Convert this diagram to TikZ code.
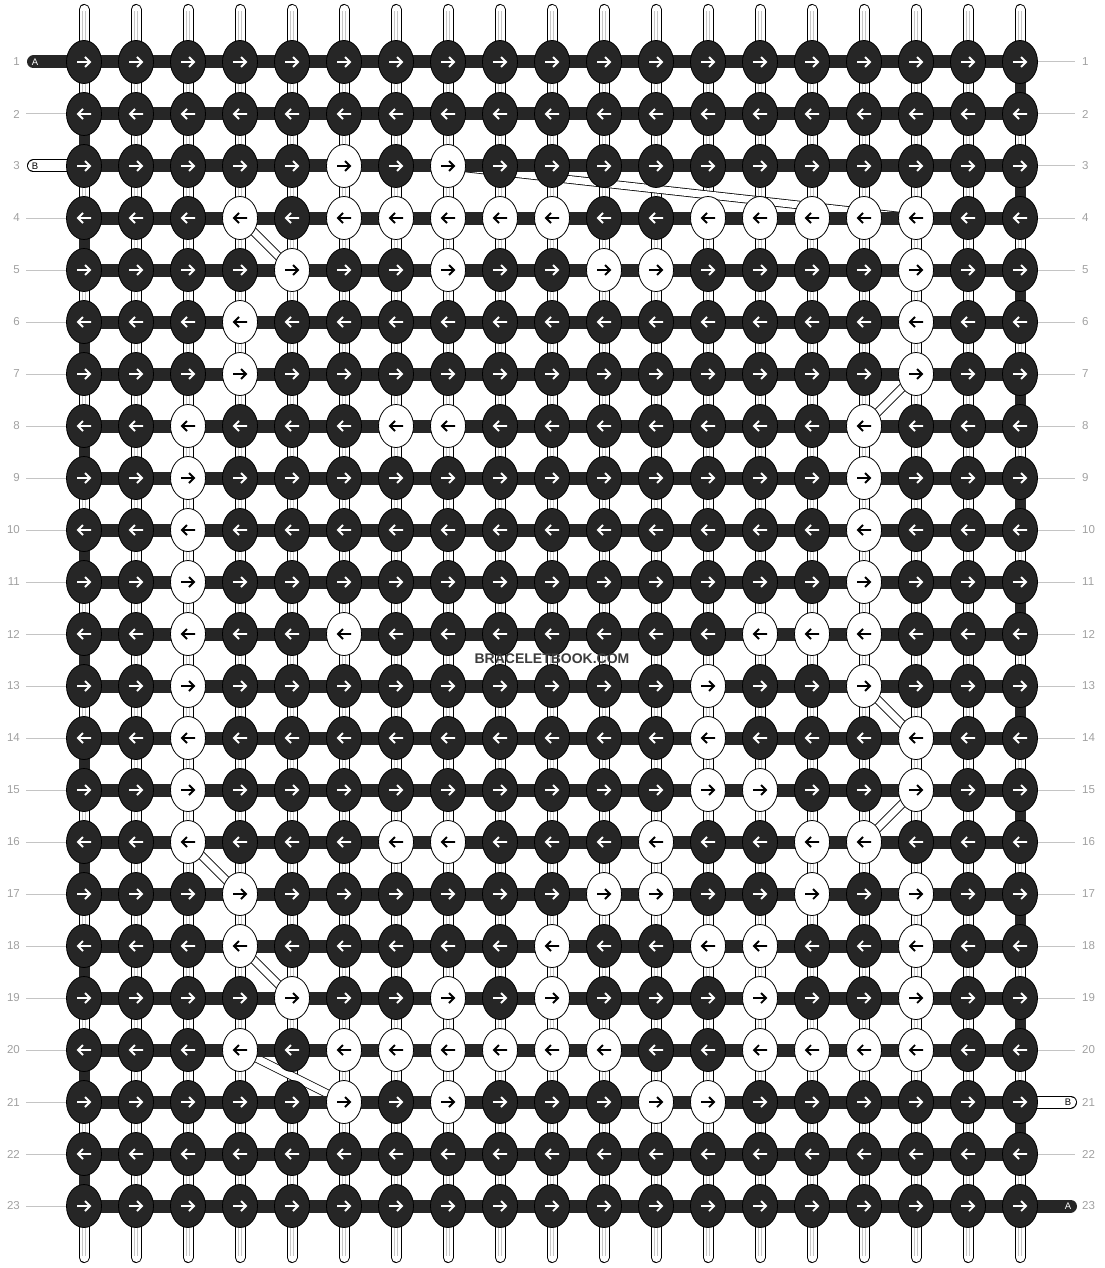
\documentclass[tikz,border=0pt]{standalone}
\usepackage{fontspec}
\setmainfont{Liberation Sans}
\usetikzlibrary{shapes.geometric,backgrounds}
\definecolor{thread}{HTML}{262626}
\definecolor{rulegray}{HTML}{C4C4C4}
\definecolor{numgray}{HTML}{A0A0A0}
\definecolor{markgray}{HTML}{3C3C3C}
\pgfdeclarelayer{warp}
\pgfdeclarelayer{weft}
\pgfsetlayers{warp,weft,main}
\tikzset{
  knot/.style={draw, ellipse, line width=0.8pt, minimum width=35pt, minimum height=43pt, inner sep=0pt},
  warpthread/.style={draw=black, double=white, double distance=9pt, line width=1pt, line cap=round},
  warpline/.style={draw=black!22, line width=0.6pt},
  crossthread/.style={draw=black, double=white, double distance=7pt, line width=0.8pt},
  weftthread/.style={draw=thread, line width=13pt},
  turnthread/.style={draw=thread, line width=11pt},
  darkstub/.style={draw=thread, line width=13pt, line cap=round},
  whitestub/.style={draw=black, double=white, double distance=11pt, line width=1pt, line cap=round},
  stubtag/.style={font=\fontsize{9.5}{10}\selectfont, inner sep=0pt},
  rownum/.style={text=numgray, font=\fontsize{11.5}{12}\selectfont, inner ysep=0pt},
  rowrule/.style={draw=rulegray, line width=1pt}
}

\begin{document}
\begin{tikzpicture}[x=1pt, y=-1pt]
  \useasboundingbox (0,0) rectangle (1104,1268);

  % knots, row by row (0 = no light knot)
  \foreach \r/\whites in {1/{0}, 2/{0}, 3/{6,8}, 4/{4,6,7,8,9,10,13,14,15,16,17},
      5/{5,8,11,12,17}, 6/{4,17}, 7/{4,17}, 8/{3,7,8,16}, 9/{3,16}, 10/{3,16},
      11/{3,16}, 12/{3,6,14,15,16}, 13/{3,13,16}, 14/{3,13,17}, 15/{3,13,14,17},
      16/{3,7,8,12,15,16}, 17/{4,11,12,15,17}, 18/{4,10,13,14,17},
      19/{5,8,10,14,17}, 20/{4,6,7,8,9,10,11,14,15,16,17}, 21/{6,8,12,13},
      22/{0}, 23/{0}}{
    \pgfmathtruncatemacro\dir{1-2*mod(\r+1,2)}
    \foreach \c in {1,...,19}{
      \gdef\kf{thread}\gdef\ac{white}
      \foreach \w in \whites {\ifnum\w=\c\relax \gdef\kf{white}\gdef\ac{black}\fi}
      \node[knot, fill=\kf] (k-\r-\c) at ({32+52*\c},{10+52*\r}) {};
      \draw[color=\ac, line width=1.8pt] (k-\r-\c.center) ++({-7*\dir},0) -- ++({13*\dir},0)
        ++({-5*\dir},-5) -- ++({5*\dir},5) -- ++({-5*\dir},5);
    }
  }

  % vertical threads and the light thread crossing over
  \begin{pgfonlayer}{warp}
    \foreach \c in {1,...,19}{
      \coordinate (t-\c) at ({32+52*\c},9.5);
      \coordinate (b-\c) at ({32+52*\c},1257.5);
      \draw[warpthread] (t-\c) -- (b-\c);
      \draw[warpline] ([xshift=-1.6pt,yshift=-2pt]t-\c) -- ([xshift=-1.6pt,yshift=2pt]b-\c);
      \draw[warpline] ([xshift=1.6pt,yshift=-2pt]t-\c) -- ([xshift=1.6pt,yshift=2pt]b-\c);
    }
    \foreach \a/\b in {3-8/4-17, 4-4/5-5, 7-17/8-16, 13-16/14-17,
        15-17/16-16, 16-3/17-4, 18-4/19-5, 20-4/21-6}
      \draw[crossthread] (k-\a.center) -- (k-\b.center);
  \end{pgfonlayer}

  % working threads
  \begin{pgfonlayer}{weft}
    \foreach \r in {1,...,23}
      \draw[weftthread] (k-\r-1.center) -- (k-\r-19.center);
    \foreach \r in {2,4,...,22}{
      \pgfmathtruncatemacro\s{\r+1}
      \draw[turnthread] (k-\r-1.center) -- (k-\s-1.center);
    }
    \foreach \r in {1,3,...,21}{
      \pgfmathtruncatemacro\s{\r+1}
      \draw[turnthread] (k-\r-19.center) -- (k-\s-19.center);
    }
    \coordinate (endA-l) at (33.5,62);
    \coordinate (endB-l) at (33.5,166);
    \coordinate (endB-r) at (1070.5,1102);
    \coordinate (endA-r) at (1070.5,1206);
    \draw[darkstub] (k-1-1.center) -- (endA-l);
    \draw[whitestub] (k-3-1.center) -- (endB-l);
    \draw[whitestub] (k-21-19.center) -- (endB-r);
    \draw[darkstub] (k-23-19.center) -- (endA-r);
  \end{pgfonlayer}

  \node[stubtag, text=white] (tagA-l) at (35,62) {A};
  \node[stubtag, text=black] (tagB-l) at (35,166) {B};
  \node[stubtag, text=black] (tagB-r) at (1068,1102) {B};
  \node[stubtag, text=white] (tagA-r) at (1068,1206) {A};

  % row numbers
  \foreach \r in {1,...,23}{
    \node[rownum, anchor=east, inner xsep=6pt] (ln-\r) at (26,{10+52*\r}) {\r};
    \node[rownum, anchor=west, inner xsep=7pt] (rn-\r) at (1075,{10+52*\r}) {\r};
  }
  \foreach \r in {2,4,5,...,23}
    \draw[rowrule] (ln-\r.east) -- (k-\r-1.west);
  \foreach \r in {1,...,20,22}
    \draw[rowrule] (k-\r-19.east) -- (rn-\r.west);

  \node[font=\bfseries\fontsize{14}{14}\selectfont, text=markgray] (mark) at (552,659) {BRACELETBOOK.COM};
\end{tikzpicture}
\end{document}
